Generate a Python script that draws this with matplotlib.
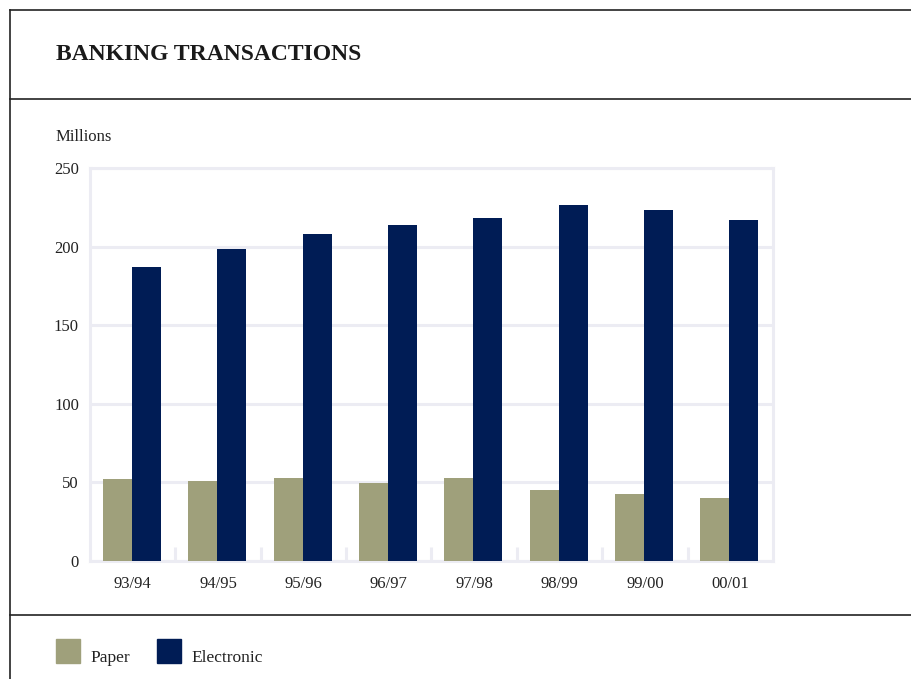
import matplotlib.pyplot as plt
import numpy as np
from matplotlib.patches import Rectangle

# Data (millions of transactions)
years = ['93/94', '94/95', '95/96', '96/97', '97/98', '98/99', '99/00', '00/01']
paper = [52, 51, 53, 49.5, 53, 45, 42.5, 40]
electronic = [187, 198.5, 208, 214, 218, 226.5, 223, 217]

paper_color = '#9fa07b'
elec_color = '#001c55'
grid_color = '#ececf3'

plt.rcParams['font.family'] = ['Liberation Serif', 'DejaVu Serif']

fig = plt.figure(figsize=[9.12, 6.79], dpi=100)

# Frame lines of the page
def hline(y, x0=10):
    fig.add_artist(plt.Line2D([x0 / 912, 1], [1 - y / 679, 1 - y / 679],
                              color='#222222', lw=1.2))

hline(10)
hline(99)
hline(615)
fig.add_artist(plt.Line2D([10 / 912, 10 / 912], [1 - 10 / 679, 0],
                          color='#222222', lw=1.2))

fig.text(56 / 912, 1 - 54 / 679, 'BANKING TRANSACTIONS', fontsize=17,
         fontweight='bold', va='center', ha='left', color='#1a1a1a')
fig.text(56 / 912, 1 - 137 / 679, 'Millions', fontsize=12, va='center',
         ha='left', color='#222222')

ax = fig.add_axes([90 / 912, 118 / 679, 683 / 912, 393 / 679])

x = np.arange(len(years))
w = 0.34
ax.bar(x - w / 2 - 0.01, paper, w, color=paper_color, label='Paper', zorder=3)
ax.bar(x + w / 2 - 0.01, electronic, w, color=elec_color, label='Electronic', zorder=3)

ax.set_xlim(-0.5, len(years) - 0.5)
ax.set_ylim(0, 250)
ax.set_yticks([0, 50, 100, 150, 200, 250])
ax.set_xticks(x)
ax.set_xticklabels(years)
ax.yaxis.grid(True, color=grid_color, lw=2.2, zorder=0)
ax.set_axisbelow(True)

for s in ax.spines.values():
    s.set_color(grid_color)
    s.set_linewidth(2.2)

ax.tick_params(axis='both', length=0, labelsize=12, colors='#222222')
ax.tick_params(axis='y', pad=8)
ax.tick_params(axis='x', pad=11)
ax.set_xticks(x[:-1] + 0.5, minor=True)
ax.tick_params(axis='x', which='minor', direction='in', length=10,
               width=2.2, color=grid_color)

# Legend drawn as patches below the bottom rule
for x0, col, lab in [(56, paper_color, 'Paper'), (157, elec_color, 'Electronic')]:
    fig.add_artist(Rectangle((x0 / 912, 1 - 663 / 679), 24 / 912, 24 / 679,
                             color=col, transform=fig.transFigure))
    fig.text((x0 + 34) / 912, 1 - 658 / 679, lab, fontsize=12.5, va='center',
             ha='left', color='#222222')

plt.savefig('out.png', dpi=100)
